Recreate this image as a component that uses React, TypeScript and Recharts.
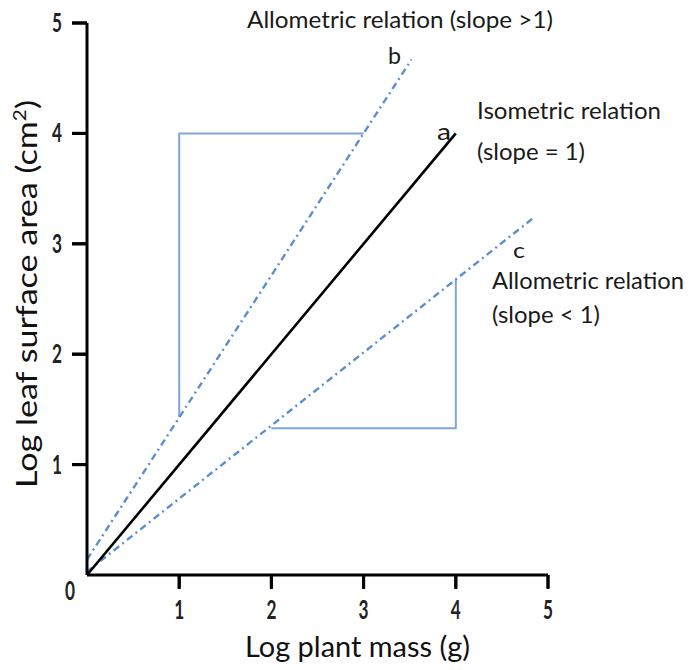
import React from 'react';
import { LineChart, Line, XAxis, YAxis, ReferenceDot } from 'recharts';

// values (log units)
const xTicks = [1, 2, 3, 4, 5];
const yTicks = [1, 2, 3, 4, 5];

const isoX = [0, 4];
const isoY = [0, 4];
const steepX = [0, 3.52];
const steepY = [0.14, 4.67];
const shallowX = [0, 4.85];
const shallowY = [0.03, 3.24];

// slope triangles (drawn as open brackets)
const boxBX = [1, 1, 3];
const boxBY = [1.43, 4, 4];
const boxCX = [2, 4, 4];
const boxCY = [1.33, 1.33, 2.68];

const toPts = (xs: number[], ys: number[]) => xs.map((x, i) => ({ x, y: ys[i] }));

const FONT = 'Lato, "Open Sans", sans-serif';
const BLUE = '#5b8fd2';
const BOX = '#7ea6d8';
const X_TS = 13;
const X_TM = 10;
const Y_TS = 15;
const Y_TM = 10;

// the reference digits are tall and narrow, so squeeze them sideways
const XTick = (props: any) => {
  const { x, y, payload } = props;
  const ax = y - X_TS - X_TM;
  return (
    <g>
      <line x1={x} x2={x} y1={ax} y2={ax + X_TS + 1} stroke="#000" strokeWidth={3} />
      <text x={x} y={y + 21} textAnchor="middle" fontFamily={FONT} fontSize={27} fontWeight={700} fill="#222" textLength={10} lengthAdjust="spacingAndGlyphs">
        {payload.value}
      </text>
    </g>
  );
};

const YTick = (props: any) => {
  const { x, y, payload } = props;
  const ax = x + Y_TS + Y_TM;
  return (
    <g>
      <line x1={ax - Y_TS} x2={ax} y1={y} y2={y} stroke="#000" strokeWidth={3} />
      <text x={x} y={y + 9} textAnchor="end" fontFamily={FONT} fontSize={27} fontWeight={700} fill="#222" textLength={10} lengthAdjust="spacingAndGlyphs">
        {payload.value}
      </text>
    </g>
  );
};

const txt = (s: string, x: number, y: number, w: number, size = 24) => (
  <text x={x} y={y} fontFamily={FONT} fontSize={size} fill="#1a1a1a" textLength={w} lengthAdjust="spacingAndGlyphs">
    {s}
  </text>
);

const OriginLabel = (p: any) => {
  const vb = p.viewBox || {};
  const cx = vb.cx ?? (vb.x ?? 0) + (vb.width ?? 0) / 2;
  const cy = vb.cy ?? (vb.y ?? 0) + (vb.height ?? 0) / 2;
  return (
    <text x={cx - 17} y={cy + 25} textAnchor="middle" fontFamily={FONT} fontSize={27} fontWeight={700} fill="#222" textLength={10} lengthAdjust="spacingAndGlyphs">
      0
    </text>
  );
};

export default function App() {
  return (
    <div style={{ position: 'absolute', left: 0, top: 0, width: 689, height: 670, background: '#fff' }}>
      <LineChart width={689} height={670} margin={{ top: 23, right: 141, bottom: 0, left: 0 }}>
        <XAxis
          type="number"
          dataKey="x"
          domain={[0, 5]}
          ticks={xTicks}
          height={95}
          axisLine={{ stroke: '#000', strokeWidth: 3 }}
          tickLine={{ stroke: '#000', strokeWidth: 3 }}
          tickSize={X_TS}
          tickMargin={X_TM}
          tick={<XTick />}
        />
        <YAxis
          type="number"
          dataKey="y"
          domain={[0, 5]}
          ticks={yTicks}
          width={87}
          axisLine={{ stroke: '#000', strokeWidth: 3 }}
          tickLine={{ stroke: '#000', strokeWidth: 3 }}
          tickSize={Y_TS}
          tickMargin={Y_TM}
          tick={<YTick />}
        />
        <Line data={toPts(boxBX, boxBY)} dataKey="y" stroke={BOX} strokeWidth={2} dot={false} type="linear" isAnimationActive={false} />
        <Line data={toPts(boxCX, boxCY)} dataKey="y" stroke={BOX} strokeWidth={2} dot={false} type="linear" isAnimationActive={false} />
        <Line data={toPts(steepX, steepY)} dataKey="y" stroke={BLUE} strokeWidth={2.4} strokeDasharray="7 4 2 4" dot={false} type="linear" isAnimationActive={false} />
        <Line data={toPts(shallowX, shallowY)} dataKey="y" stroke={BLUE} strokeWidth={2.4} strokeDasharray="7 4 2 4" dot={false} type="linear" isAnimationActive={false} />
        <Line data={toPts(isoX, isoY)} dataKey="y" stroke="#000" strokeWidth={2.6} dot={false} type="linear" isAnimationActive={false} />
        <ReferenceDot x={0} y={0} r={1} fill="none" stroke="none" label={<OriginLabel />} />
      </LineChart>
      <svg width={689} height={670} style={{ position: 'absolute', left: 0, top: 0, pointerEvents: 'none' }}>
        {txt('Allometric relation (slope >1)', 247, 28, 306)}
        {txt('b', 388, 64, 13)}
        {txt('Isometric relation', 477, 119, 184)}
        {txt('a', 437, 140, 14)}
        {txt('(slope = 1)', 477, 160, 108)}
        {txt('c', 513, 258, 12, 22)}
        {txt('Allometric relation', 492, 289, 192)}
        {txt('(slope < 1)', 492, 323, 108)}
        <text x={245} y={657} fontFamily={FONT} fontSize={28} fill="#111" textLength={225} lengthAdjust="spacingAndGlyphs">
          Log plant mass (g)
        </text>
        <text
          x={0}
          y={0}
          transform="translate(37 488) rotate(-90)"
          fontFamily={FONT}
          fontSize={28}
          fill="#111"
          textLength={388}
          lengthAdjust="spacingAndGlyphs"
        >
          Log leaf surface area (cm<tspan fontSize={17} dy={-11}>2</tspan><tspan dy={11}>)</tspan>
        </text>
      </svg>
    </div>
  );
}
